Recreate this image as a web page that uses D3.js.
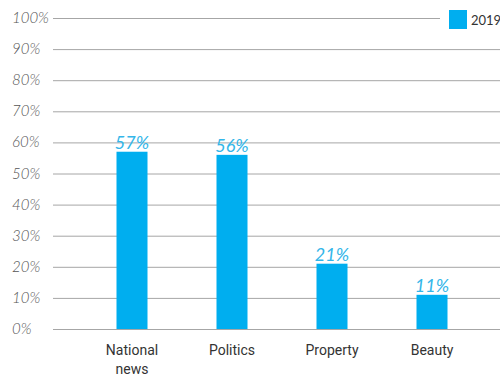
<!DOCTYPE html>
<html>
<head>
<meta charset="utf-8">
<script src="https://cdn.jsdelivr.net/npm/d3@7"></script>
<style>
  html, body { margin: 0; padding: 0; background: #fff; }
  svg { display: block; }
</style>
</head>
<body>
<svg id="chart" width="500" height="378"></svg>
<script>
// Share of respondents by topic
const categories = [["National", "news"], ["Politics"], ["Property"], ["Beauty"]];
const values = [57, 56, 21, 11];
const seriesName = "2019";
const yTicks = [0, 10, 20, 30, 40, 50, 60, 70, 80, 90, 100];

const svg = d3.select("#chart");
const barColor = "#00aeef";
const labelColor = "#33b6e9";

const keys = categories.map(c => c.join(" "));

const y = d3.scaleLinear().domain([0, 100]).range([329, 18]);
const x = d3.scaleBand()
  .domain(keys)
  .range([82, 482])
  .paddingInner(0.69)
  .paddingOuter(0.345);

// Gridlines with tick labels
const grid = svg.append("g");
yTicks.forEach(t => {
  grid.append("line")
    .attr("x1", 53)
    .attr("x2", t === 100 ? 440 : 500)
    .attr("y1", y(t) + 0.5)
    .attr("y2", y(t) + 0.5)
    .attr("stroke", "#a6a6a6")
    .attr("stroke-width", 1);
  grid.append("text")
    .attr("x", 12)
    .attr("y", y(t) + 5)
    .attr("font-family", "Lato, 'Open Sans', sans-serif")
    .attr("font-style", "italic")
    .attr("font-weight", 300)
    .attr("font-size", 15)
    .attr("fill", "#555")
    .text(t + "%");
});

// Bars
svg.append("g").selectAll("rect")
  .data(values)
  .join("rect")
  .attr("x", (d, i) => x(keys[i]))
  .attr("y", d => y(d))
  .attr("width", x.bandwidth())
  .attr("height", d => y(0) - y(d))
  .attr("fill", barColor);

// Value labels
svg.append("g").selectAll("text")
  .data(values)
  .join("text")
  .attr("x", (d, i) => x(keys[i]) + x.bandwidth() / 2)
  .attr("y", d => y(d) - 3)
  .attr("text-anchor", "middle")
  .attr("font-family", "Lato, 'Open Sans', sans-serif")
  .attr("font-style", "italic")
  .attr("font-size", 18)
  .attr("fill", labelColor)
  .text(d => d + "%");

// Category labels
const cat = svg.append("g").selectAll("text")
  .data(categories)
  .join("text")
  .attr("x", (d, i) => x(keys[i]) + x.bandwidth() / 2)
  .attr("y", 355)
  .attr("text-anchor", "middle")
  .attr("font-family", "Roboto, sans-serif")
  .attr("font-size", 14)
  .attr("fill", "#333");
cat.selectAll("tspan")
  .data(d => d)
  .join("tspan")
  .attr("x", function () { return this.parentNode.getAttribute("x"); })
  .attr("dy", (d, i) => i === 0 ? 0 : 19)
  .text(d => d);

// Legend
const legend = svg.append("g");
legend.append("rect")
  .attr("x", 449).attr("y", 10)
  .attr("width", 18).attr("height", 19)
  .attr("fill", barColor);
legend.append("text")
  .attr("x", 471).attr("y", 25)
  .attr("font-family", "Lato, sans-serif")
  .attr("font-size", 13)
  .attr("fill", "#333")
  .text(seriesName);
</script>
</body>
</html>
